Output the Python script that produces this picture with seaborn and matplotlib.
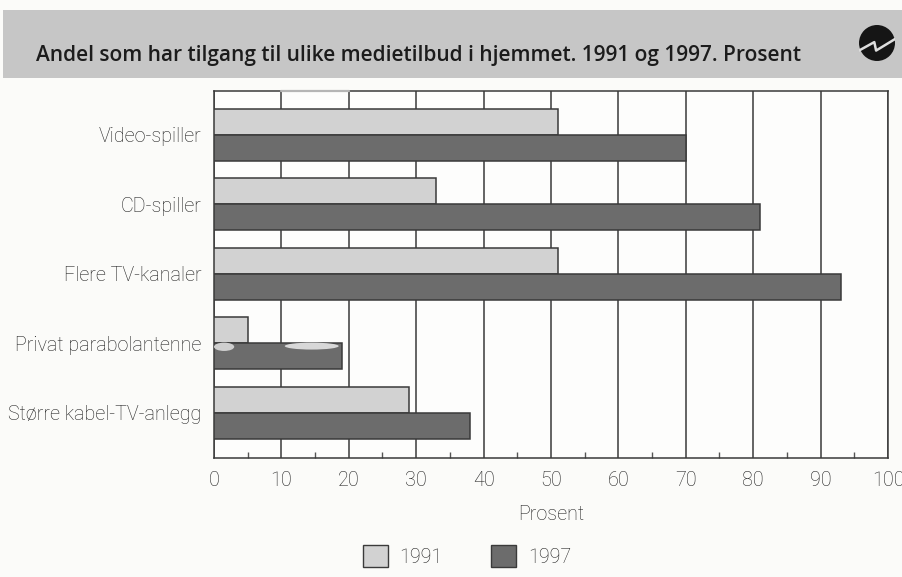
import matplotlib
matplotlib.use("Agg")
import pandas as pd
import seaborn as sns
import matplotlib.pyplot as plt
from matplotlib.patches import Rectangle, Circle, Ellipse

categories = ["Video-spiller", "CD-spiller", "Flere TV-kanaler",
              "Privat parabolantenne", "Større kabel-TV-anlegg"]
years = ["1991", "1997"]
values_1991 = [51, 33, 51, 5, 29]
values_1997 = [70, 81, 93, 19, 38]
xticks = list(range(0, 101, 10))
minor_ticks = list(range(5, 100, 10))

df = pd.DataFrame({"kategori": categories * 2,
                   "aar": ["1991"] * 5 + ["1997"] * 5,
                   "prosent": values_1991 + values_1997})

sns.set_theme(style="white")
plt.rcParams["font.family"] = ["Roboto", "Liberation Sans", "DejaVu Sans"]
plt.rcParams["font.weight"] = "light"

W, H = 903, 577
bg = "#fbfbf9"
ink = "#1e1e1e"
line = "#3a3a3a"
light = "#d2d2d2"
dark = "#6c6c6c"
fs = 14.2
fig = plt.figure(figsize=(W / 100, H / 100), dpi=100, facecolor=bg)


def fx(x):
    return x / W


def fy(y):
    return 1 - y / H


# graa tittelband
fig.add_artist(Rectangle((fx(3), fy(78)), 900 / W, 68 / H, transform=fig.transFigure,
                         facecolor="#c6c6c6", edgecolor="none", zorder=0))
fig.text(fx(36), fy(56), "Andel som har tilgang til ulike medietilbud i hjemmet. 1991 og 1997. Prosent",
         family="Open Sans", weight="semibold", fontsize=15, color="#1c1c1c", va="center")

# logo
logo = fig.add_axes([fx(859), fy(61), 36 / W, 36 / H])
logo.set_xlim(-1, 1)
logo.set_ylim(-1, 1)
logo.axis("off")
logo.add_patch(Circle((0, 0), 1, facecolor="#151515", edgecolor="none"))
logo.plot([-1, -0.15, -0.05, 1], [-0.42, 0.05, -0.42, 0.22], color="#dddddd", lw=1.8)

ax = fig.add_axes([fx(214), fy(458), 674 / W, 367 / H])
sns.barplot(data=df, y="kategori", x="prosent", hue="aar", order=categories, hue_order=years,
            palette={"1991": light, "1997": dark}, width=0.75, gap=0,
            saturation=1, edgecolor=line, linewidth=1.1, legend=False, ax=ax, zorder=3)

ax.set_xlim(0, 100)
ax.set_ylim(4.65, -0.63)
ax.set_facecolor("#fdfdfc")
ax.set_xticks(xticks)
ax.set_xticks(minor_ticks, minor=True)
ax.xaxis.grid(True, which="major", color=line, lw=1.1, zorder=1)
ax.set_axisbelow(True)
ax.tick_params(axis="x", which="major", length=0, pad=9, labelsize=fs, labelcolor=ink)
ax.tick_params(axis="x", which="minor", direction="in", length=4, width=1, color="#555555", bottom=True)
ax.tick_params(axis="y", length=0, pad=9, labelsize=fs, labelcolor=ink)
for s in ax.spines.values():
    s.set_color(line)
    s.set_linewidth(1.1)
ax.set_ylabel("")
ax.set_xlabel("Prosent", fontsize=fs, color=ink, labelpad=11, weight="light")

# slitasje fra skanningen
ax.plot([10, 20], [1, 1], transform=ax.get_xaxis_transform(), color="#b5b5b5", lw=1.6, zorder=5, clip_on=False)
ax.add_patch(Ellipse((14.5, 3.04), 8, 0.1, facecolor="#d8d8d8", edgecolor="none", zorder=5))
ax.add_patch(Ellipse((1.5, 3.05), 3, 0.12, facecolor="#cfcfcf", edgecolor="none", zorder=5))

handles = [Rectangle((0, 0), 1, 1, facecolor=light, edgecolor=line, lw=1),
           Rectangle((0, 0), 1, 1, facecolor=dark, edgecolor=line, lw=1)]
fig.legend(handles, years, loc="center", bbox_to_anchor=(fx(467), fy(556)), ncol=2, frameon=False,
           fontsize=fs, labelcolor=ink, handlelength=1.25, handleheight=1.4, columnspacing=2.45,
           handletextpad=0.6)

fig.savefig("out.png", dpi=100, facecolor=bg)
